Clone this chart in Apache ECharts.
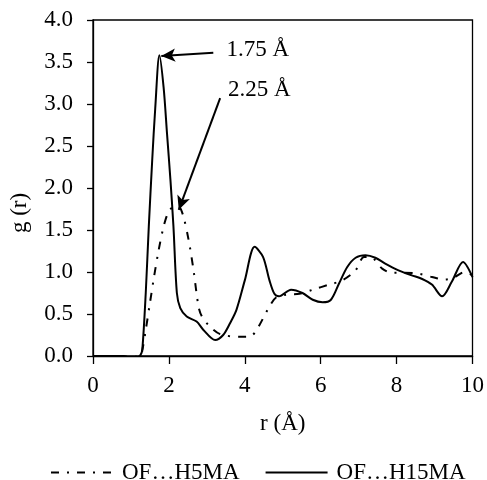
<!DOCTYPE html>
<html>
<head>
<meta charset="utf-8">
<script src="https://cdn.jsdelivr.net/npm/echarts@6/dist/echarts.min.js"></script>
<style>
  html, body { margin: 0; padding: 0; background: #fff; }
  #chart { width: 487px; height: 480px; }
</style>
</head>
<body>
<div id="chart"></div>
<script>
// Radial distribution functions g(r) for two O...H pairs
const seriesNames = ['OF…H5MA', 'OF…H15MA'];

// [r (Å), g(r)]
const rdfH5MA = [
  [0, 0], [0.5, 0], [1.0, -0.01], [1.25, 0], [1.30, 0.07], [1.39, 0.31], [1.50, 0.63],
  [1.60, 0.92], [1.73, 1.26], [1.86, 1.54], [1.99, 1.72], [2.10, 1.77], [2.25, 1.78],
  [2.37, 1.68], [2.52, 1.38], [2.65, 1.02], [2.78, 0.59], [2.87, 0.47], [3.08, 0.35],
  [3.35, 0.26], [3.87, 0.23], [4.13, 0.23], [4.31, 0.31], [4.65, 0.59], [4.83, 0.70],
  [5.10, 0.73], [5.44, 0.74], [5.80, 0.79], [6.22, 0.85], [6.57, 0.90], [6.92, 1.02],
  [7.14, 1.18], [7.31, 1.18], [7.62, 1.04], [7.88, 0.99], [8.20, 0.99], [8.58, 0.98],
  [8.93, 0.94], [9.27, 0.91], [9.50, 0.93], [9.79, 1.00], [10.0, 0.96]
];

const rdfH15MA = [
  [0, 0], [0.5, 0], [0.8, 0], [1.0, -0.02], [1.15, -0.02], [1.25, 0.01], [1.30, 0.08],
  [1.39, 0.75], [1.47, 1.54], [1.56, 2.33], [1.64, 2.95], [1.75, 3.58],
  [1.86, 3.20], [1.95, 2.65], [2.04, 2.10], [2.12, 1.54], [2.21, 0.75],
  [2.30, 0.57], [2.47, 0.47], [2.73, 0.41], [2.91, 0.31], [3.22, 0.19], [3.43, 0.25],
  [3.61, 0.39], [3.78, 0.55], [4.00, 0.90], [4.26, 1.30], [4.48, 1.18], [4.65, 0.90],
  [4.78, 0.74], [4.90, 0.71], [5.22, 0.79], [5.52, 0.75], [5.79, 0.67], [6.05, 0.64],
  [6.27, 0.67], [6.48, 0.86], [6.70, 1.06], [6.92, 1.17], [7.18, 1.20], [7.44, 1.17],
  [7.70, 1.10], [8.05, 1.02], [8.40, 0.96], [8.66, 0.92], [8.93, 0.85], [9.20, 0.71],
  [9.45, 0.88], [9.75, 1.12], [10.0, 0.94]
];

// Peak call-outs: label text, label anchor, arrow tail and arrow tip (data coords)
const peakLabels = ['1.75 Å', '2.25 Å'];
const labelAnchors = [[3.52, 3.64], [3.56, 3.17]];
const arrowTails = [[3.17, 3.61], [3.35, 3.07]];
const arrowTips = [[1.80, 3.57], [2.26, 1.74]];

const xTicks = { min: 0, max: 10, interval: 2 };
const yTicks = { min: 0, max: 4, interval: 0.5 };

const FONT = 'Liberation Serif';
const FS = 23;

const chart = echarts.init(document.getElementById('chart'), null, { renderer: 'canvas' });

const arrowLines = arrowTails.map((tail, i) => [
  { coord: tail, symbol: 'none' },
  { coord: arrowTips[i], symbol: 'arrow', symbolSize: [10, 14] }
]);

const calloutPoints = peakLabels.map((txt, i) => ({
  coord: labelAnchors[i],
  value: txt,
  label: { formatter: txt }
}));

chart.setOption({
  animation: false,
  backgroundColor: '#fff',
  grid: {
    left: 92, right: 13, top: 20, bottom: 124,
    show: true, borderColor: '#000', borderWidth: 1.3, backgroundColor: 'transparent'
  },
  xAxis: {
    type: 'value',
    min: xTicks.min, max: xTicks.max, interval: xTicks.interval,
    name: 'r (Å)',
    nameLocation: 'middle',
    nameGap: 56,
    nameTextStyle: { fontFamily: FONT, fontSize: FS, color: '#000' },
    axisLine: { show: true, onZero: false, lineStyle: { color: '#000', width: 1.3 } },
    axisTick: { show: true, length: 8, lineStyle: { color: '#000', width: 1.3 } },
    axisLabel: { margin: 18, fontFamily: FONT, fontSize: FS, color: '#000' },
    splitLine: { show: false }
  },
  yAxis: {
    type: 'value',
    min: yTicks.min, max: yTicks.max, interval: yTicks.interval,
    name: 'g (r)',
    nameLocation: 'middle',
    nameGap: 62,
    nameTextStyle: { fontFamily: FONT, fontSize: FS, color: '#000', padding: [0, 50, 0, 0] },
    axisLine: { show: true, onZero: false, lineStyle: { color: '#000', width: 1.3 } },
    axisTick: { show: true, length: 6, lineStyle: { color: '#000', width: 1.3 } },
    axisLabel: {
      margin: 20, fontFamily: FONT, fontSize: FS, color: '#000',
      formatter: v => v.toFixed(1)
    },
    splitLine: { show: false }
  },
  legend: {
    left: 45, top: 456,
    itemWidth: 62, itemHeight: 14, itemGap: 25,
    itemStyle: { opacity: 0 },
    textStyle: { fontFamily: FONT, fontSize: FS, color: '#000', padding: [0, 0, 0, 4] },
    data: seriesNames
  },
  series: [
    {
      name: seriesNames[0],
      type: 'line',
      data: rdfH5MA,
      smooth: 0.3,
      symbol: 'none',
      lineStyle: { color: '#000', width: 2, type: [8, 8, 2, 8] },
      itemStyle: { color: '#000' },
      z: 3
    },
    {
      name: seriesNames[1],
      type: 'line',
      data: rdfH15MA,
      smooth: 0.3,
      symbol: 'none',
      lineStyle: { color: '#000', width: 2, type: 'solid' },
      itemStyle: { color: '#000' },
      z: 4,
      markLine: {
        silent: true,
        animation: false,
        lineStyle: { color: '#000', width: 2, type: 'solid' },
        label: { show: false },
        data: arrowLines
      },
      markPoint: {
        silent: true,
        animation: false,
        symbol: 'circle',
        symbolSize: 0,
        itemStyle: { color: 'transparent' },
        label: {
          show: true, position: 'right', distance: 0,
          fontFamily: FONT, fontSize: FS, color: '#000'
        },
        data: calloutPoints
      }
    }
  ]
});
</script>
</body>
</html>
